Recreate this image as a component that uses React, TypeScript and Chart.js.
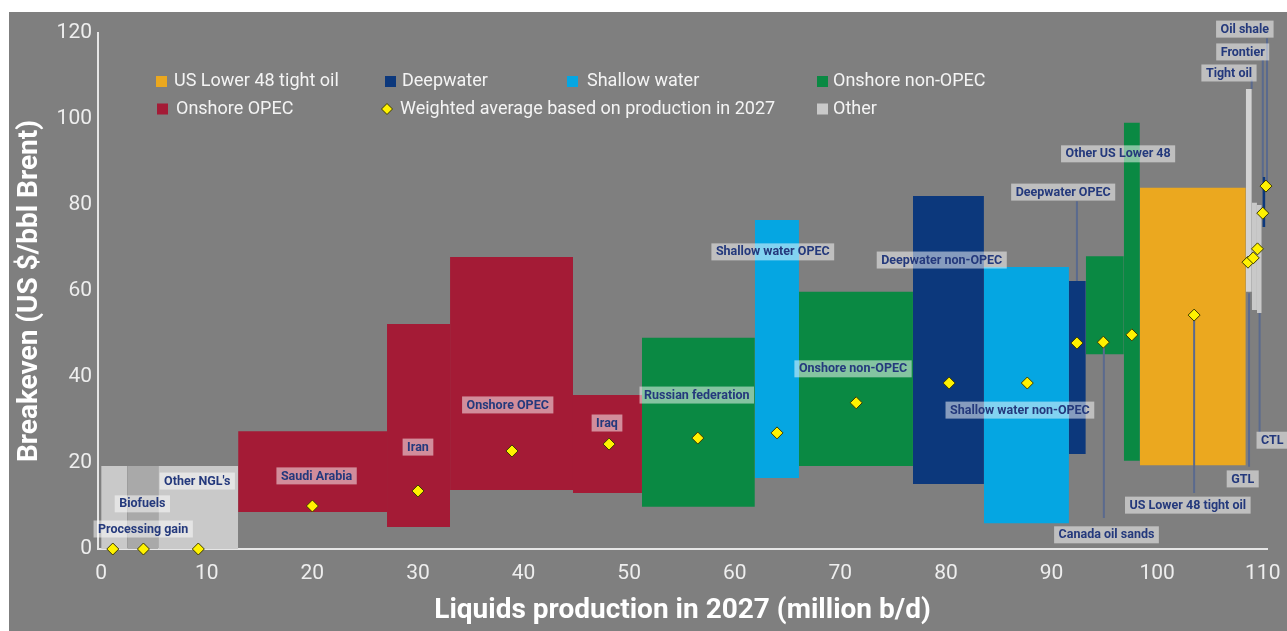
import React, { useEffect, useRef } from 'react';
import { Chart, registerables } from 'chart.js';

Chart.register(...registerables);

// ---------- DATA ----------
const SEG_NAMES = [
  'Processing gain', 'Biofuels', "Other NGL's", 'Saudi Arabia', 'Iran', 'Onshore OPEC', 'Iraq',
  'Russian federation', 'Shallow water OPEC', 'Onshore non-OPEC', 'Deepwater non-OPEC',
  'Shallow water non-OPEC', 'Deepwater OPEC', 'Canada oil sands', 'Other US Lower 48',
  'US Lower 48 tight oil', 'Tight oil', 'GTL', 'CTL', 'Frontier',
];
const SEG_X_START = [0, 2.46, 5.4, 12.97, 27.07, 33.04, 44.68, 51.21, 61.9, 66.08, 76.87, 83.59, 91.64, 93.24, 96.84, 98.36, 108.39, 108.96, 109.45, 109.96];
const SEG_X_END = [2.46, 5.4, 12.97, 27.07, 33.04, 44.68, 51.21, 61.9, 66.08, 76.87, 83.59, 91.64, 93.24, 96.84, 98.36, 108.39, 108.96, 109.45, 109.9, 110.25];
const SEG_LOW = [0, 0, 0, 8.6, 5.1, 13.7, 13.0, 9.8, 16.5, 19.3, 15.1, 6.0, 22.1, 45.3, 20.5, 19.5, 59.8, 55.6, 54.9, 74.9];
const SEG_HIGH = [19.3, 19.3, 19.3, 27.4, 52.3, 67.9, 35.8, 49.1, 76.5, 59.8, 82.1, 65.6, 62.3, 68.1, 99.1, 84.0, 107.0, 80.5, 80.0, 86.5];
const SEG_GROUP = [
  'other', 'otherDark', 'other', 'opec', 'opec', 'opec', 'opec',
  'nonopec', 'shallow', 'nonopec', 'deep', 'shallow', 'deep', 'nonopec', 'nonopec',
  'tight', 'otherLight', 'other', 'other', 'deep',
];

const AVG_X = [1.1, 4.0, 9.2, 20.0, 30.0, 38.9, 48.1, 56.5, 64.0, 71.5, 80.3, 87.7, 92.4, 94.9, 97.6, 103.5, 108.6, 109.1, 109.5, 110.0, 110.3];
const AVG_Y = [0, 0, 0, 10.0, 13.5, 22.8, 24.4, 25.8, 27.0, 34.0, 38.6, 38.6, 47.9, 48.1, 49.8, 54.4, 66.7, 67.7, 69.8, 78.1, 84.4];

const LEADER_X = [92.4, 94.95, 103.5, 108.7, 109.7, 108.95, 110.0, 110.4];
const LEADER_FROM = [80.9, 48.1, 54.4, 59.5, 54.9, 109.1, 113.7, 118.8];
const LEADER_TO = [62.3, 7.2, 13.0, 19.1, 27.2, 107.0, 86.5, 84.4];

const LABEL_TEXT = [
  'Processing gain', 'Biofuels', "Other NGL's", 'Saudi Arabia', 'Iran', 'Onshore OPEC', 'Iraq',
  'Russian federation', 'Shallow water OPEC', 'Onshore non-OPEC', 'Deepwater non-OPEC',
  'Shallow water non-OPEC', 'Deepwater OPEC', 'Other US Lower 48', 'Canada oil sands',
  'US Lower 48 tight oil', 'GTL', 'CTL', 'Tight oil', 'Frontier', 'Oil shale',
];
const LABEL_X = [3.98, 3.9, 9.1, 20.4, 30.0, 38.5, 47.9, 56.4, 63.6, 71.2, 79.6, 87.0, 91.1, 96.3, 95.2, 102.9, 108.1, 110.9, 106.8, 108.1, 108.3];
const LABEL_Y = [4.65, 10.5, 15.8, 17.0, 23.7, 33.5, 29.3, 35.8, 69.1, 41.9, 67.2, 32.3, 83.0, 91.9, 3.3, 10.2, 16.3, 25.3, 110.7, 115.6, 120.9];

const X_TICKS = [0, 10, 20, 30, 40, 50, 60, 70, 80, 90, 100, 110];
const Y_TICKS = [0, 20, 40, 60, 80, 100, 120];

const LEGEND_ROW1 = ['US Lower 48 tight oil', 'Deepwater', 'Shallow water', 'Onshore non-OPEC'];
const LEGEND_ROW1_GROUPS = ['tight', 'deep', 'shallow', 'nonopec'];
const LEGEND_ROW2 = ['Onshore OPEC', 'Weighted average based on production in 2027', 'Other'];
const LEGEND_ROW2_GROUPS = ['opec', 'avg', 'other'];

const X_TITLE = 'Liquids production in 2027 (million b/d)';
const Y_TITLE = 'Breakeven (US $/bbl Brent)';

// ---------- STYLE ----------
const COLORS: Record<string, string> = {
  tight: '#eba81f',
  deep: '#0c387c',
  shallow: '#05a6e2',
  nonopec: '#0a8943',
  opec: '#a41b36',
  other: '#c9c9c9',
  otherDark: '#a9a9a9',
  otherLight: '#d3d3d3',
};
const BG = '#7f7f7f';
const DIAMOND_FILL = '#fff200';
const DIAMOND_BORDER = '#3d3b00';
const LEADER_COLOR = '#5a6a8e';
const LABEL_TEXT_COLOR = '#24397c';
const FONT = 'Roboto';

const CANVAS_W = 1278;
const CANVAS_H = 619;

function drawDiamond(ctx: CanvasRenderingContext2D, x: number, y: number, r: number) {
  ctx.beginPath();
  ctx.moveTo(x - r, y);
  ctx.lineTo(x, y - r);
  ctx.lineTo(x + r, y);
  ctx.lineTo(x, y + r);
  ctx.closePath();
  ctx.fillStyle = DIAMOND_FILL;
  ctx.fill();
  ctx.lineWidth = 1;
  ctx.strokeStyle = DIAMOND_BORDER;
  ctx.stroke();
}

const bgPlugin = {
  id: 'bgFill',
  beforeDraw(chart: any) {
    const { ctx, width, height } = chart;
    ctx.save();
    ctx.fillStyle = BG;
    ctx.fillRect(0, 0, width, height);
    ctx.restore();
  },
};

const labelPlugin = {
  id: 'segLabels',
  afterDatasetsDraw(chart: any) {
    const { ctx } = chart;
    const xs = chart.scales.x;
    const ys = chart.scales.y;
    ctx.save();
    ctx.font = `bold 12.5px ${FONT}`;
    ctx.textAlign = 'center';
    ctx.textBaseline = 'middle';
    LABEL_TEXT.forEach((t, i) => {
      const cx = xs.getPixelForValue(LABEL_X[i]);
      const cy = ys.getPixelForValue(LABEL_Y[i]);
      const w = ctx.measureText(t).width + 9;
      const h = 17;
      ctx.fillStyle = 'rgba(255,255,255,0.5)';
      ctx.fillRect(cx - w / 2, cy - h / 2, w, h);
      ctx.fillStyle = LABEL_TEXT_COLOR;
      ctx.fillText(t, cx, cy + 0.5);
    });
    ctx.restore();
  },
};

const legendPlugin = {
  id: 'customLegend',
  afterDraw(chart: any) {
    const { ctx } = chart;
    ctx.save();
    ctx.font = `18px ${FONT}`;
    ctx.textBaseline = 'middle';
    ctx.textAlign = 'left';
    const row1Y = 69.5;
    const row2Y = 97;
    const row1Sq = [147, 376, 558, 808];
    const row1Tx = [165, 393, 578, 824];
    LEGEND_ROW1.forEach((t, i) => {
      ctx.fillStyle = COLORS[LEGEND_ROW1_GROUPS[i]];
      ctx.fillRect(row1Sq[i], row1Y - 5.5, 11, 11);
      ctx.fillStyle = '#f4f4f4';
      ctx.fillText(t, row1Tx[i], row1Y);
    });
    const row2Sq = [148, 378, 808];
    const row2Tx = [167, 391, 824];
    LEGEND_ROW2.forEach((t, i) => {
      const g = LEGEND_ROW2_GROUPS[i];
      if (g === 'avg') {
        drawDiamond(ctx, row2Sq[i], row2Y, 5.5);
      } else {
        ctx.fillStyle = COLORS[g];
        ctx.fillRect(row2Sq[i], row2Y - 5.5, 11, 11);
      }
      ctx.fillStyle = '#f4f4f4';
      ctx.fillText(t, row2Tx[i], row2Y);
    });
    ctx.restore();
  },
};

export default function App() {
  const canvasRef = useRef<HTMLCanvasElement | null>(null);

  useEffect(() => {
    document.body.style.margin = '0';
    document.body.style.overflow = 'hidden';
    const canvas = canvasRef.current;
    if (!canvas) return;

    const rectDatasets = SEG_NAMES.map((name, i) => ({
      type: 'line' as const,
      label: name,
      data: [
        { x: SEG_X_START[i], y: SEG_LOW[i] },
        { x: SEG_X_START[i], y: SEG_HIGH[i] },
        { x: SEG_X_END[i], y: SEG_HIGH[i] },
        { x: SEG_X_END[i], y: SEG_LOW[i] },
      ],
      backgroundColor: COLORS[SEG_GROUP[i]],
      borderColor: 'rgba(0,0,0,0)',
      borderWidth: 0,
      pointRadius: 0,
      tension: 0,
      fill: { value: SEG_LOW[i] },
      clip: false,
      order: 3,
    }));

    const leaderDatasets = LEADER_X.map((lx, i) => ({
      type: 'line' as const,
      label: 'leader' + i,
      data: [
        { x: lx, y: LEADER_FROM[i] },
        { x: lx, y: LEADER_TO[i] },
      ],
      borderColor: LEADER_COLOR,
      borderWidth: 2,
      pointRadius: 0,
      fill: false,
      clip: false,
      order: 2,
    }));

    const avgDataset = {
      type: 'line' as const,
      label: 'Weighted average based on production in 2027',
      data: AVG_X.map((x, i) => ({ x, y: AVG_Y[i] })),
      showLine: false,
      pointStyle: 'rectRot',
      pointRadius: 6,
      pointBackgroundColor: DIAMOND_FILL,
      pointBorderColor: DIAMOND_BORDER,
      pointBorderWidth: 1,
      fill: false,
      clip: false,
      order: 0,
    };

    const chart = new Chart(canvas, {
      type: 'line',
      data: { datasets: [avgDataset, ...leaderDatasets, ...rectDatasets] as any },
      options: {
        responsive: false,
        animation: false,
        events: [],
        layout: { padding: { left: 0, top: 21, right: 20, bottom: 0 } },
        plugins: {
          legend: { display: false },
          tooltip: { enabled: false },
        },
        scales: {
          x: {
            type: 'linear',
            min: -0.3,
            max: 110.4,
            afterBuildTicks: (scale: any) => {
              scale.ticks = X_TICKS.map((v) => ({ value: v }));
            },
            afterFit: (scale: any) => {
              scale.height = 82;
              scale.paddingLeft = 0;
              scale.paddingRight = 0;
            },
            grid: { display: false, drawTicks: false },
            border: { display: true, color: '#e6e6e6', width: 2 },
            ticks: {
              color: '#eeeeee',
              font: { family: FONT, size: 21 },
              padding: 12,
              maxRotation: 0,
              autoSkip: false,
            },
            title: {
              display: true,
              text: X_TITLE,
              color: '#ffffff',
              font: { family: FONT, size: 28, weight: 'bold' },
              padding: { top: 0, bottom: 3 },
            },
          },
          y: {
            type: 'linear',
            min: 0,
            max: 120,
            afterBuildTicks: (scale: any) => {
              scale.ticks = Y_TICKS.map((v) => ({ value: v }));
            },
            afterFit: (scale: any) => {
              scale.width = 89;
              scale.paddingTop = 0;
              scale.paddingBottom = 0;
            },
            grid: { display: false, drawTicks: false },
            border: { display: true, color: '#e6e6e6', width: 2 },
            ticks: {
              color: '#eeeeee',
              font: { family: FONT, size: 21 },
              padding: 6,
            },
            title: {
              display: true,
              text: Y_TITLE,
              color: '#ffffff',
              font: { family: FONT, size: 28, weight: 'bold' },
              padding: { top: 4, bottom: 0 },
            },
          },
        },
      } as any,
      plugins: [bgPlugin, labelPlugin, legendPlugin],
    });

    return () => {
      chart.destroy();
    };
  }, []);

  return (
    <div style={{ paddingLeft: 9, paddingTop: 12, width: CANVAS_W, height: CANVAS_H }}>
      <canvas
        ref={canvasRef}
        width={CANVAS_W}
        height={CANVAS_H}
        style={{ display: 'block', width: CANVAS_W, height: CANVAS_H }}
      />
    </div>
  );
}
